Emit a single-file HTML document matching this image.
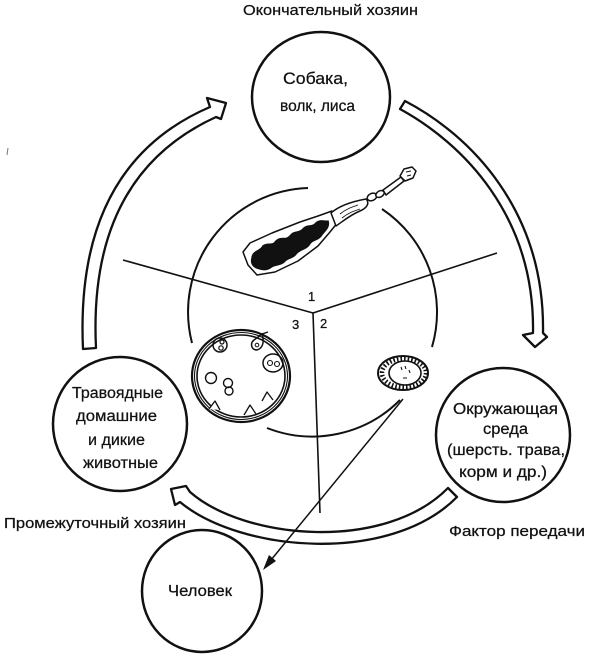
<!DOCTYPE html>
<html><head><meta charset="utf-8"><style>
html,body{margin:0;padding:0;background:#fff;}
svg{display:block;}
text{font-family:"Liberation Sans","DejaVu Sans",sans-serif;fill:#111;stroke:#111;stroke-width:0.25;}
</style></head><body>
<svg width="600" height="658" viewBox="0 0 600 658" xmlns="http://www.w3.org/2000/svg">
<rect width="600" height="658" fill="#fff"/>

<!-- Title -->
<text x="243" y="15" font-size="15" textLength="175" lengthAdjust="spacingAndGlyphs">Окончательный хозяин</text>

<!-- Top circle -->
<ellipse cx="321" cy="97" rx="69" ry="65" fill="none" stroke="#111" stroke-width="2.5"/>
<text x="283" y="84" font-size="17" textLength="65" lengthAdjust="spacingAndGlyphs">Собака,</text>
<text x="280" y="111" font-size="16" textLength="75" lengthAdjust="spacingAndGlyphs">волк, лиса</text>

<!-- Left arrow (up to top circle) -->
<g fill="none" stroke="#111" stroke-width="2.3" stroke-linejoin="round">
<path d="M83 349 C78 240 110 150 210 107 L207 98 L226 103 L221 119 L216 117 C122 160 91 245 96 348 Z"/>
</g>

<!-- Right arrow (down to environment) -->
<g fill="none" stroke="#111" stroke-width="2.3" stroke-linejoin="round">
<path d="M405 101 C470 135 545 210 543 333 L547 337 L535 347 L523 335 L533 333 C535 215 462 143 400 109 Z"/>
</g>

<!-- Bottom arrow (environment to herbivores) -->
<g fill="none" stroke="#111" stroke-width="2.3" stroke-linejoin="round">
<path d="M448 488 C385 552 245 540 190 492 L186 486 L171 489 L175 505 L180 502 C240 552 390 565 457 497 Z"/>
</g>

<!-- Left circle -->
<circle cx="120" cy="424" r="67" fill="none" stroke="#111" stroke-width="2.5"/>
<text x="72" y="398" font-size="15.5" textLength="91" lengthAdjust="spacingAndGlyphs">Травоядные</text>
<text x="76" y="421" font-size="15.5" textLength="81" lengthAdjust="spacingAndGlyphs">домашние</text>
<text x="88" y="445" font-size="15.5" textLength="57" lengthAdjust="spacingAndGlyphs">и дикие</text>
<text x="83" y="468" font-size="15.5" textLength="75" lengthAdjust="spacingAndGlyphs">животные</text>

<!-- Right circle -->
<circle cx="503" cy="435" r="67" fill="none" stroke="#111" stroke-width="2.5"/>
<text x="453" y="414" font-size="15.5" textLength="105" lengthAdjust="spacingAndGlyphs">Окружающая</text>
<text x="483" y="434" font-size="15.5" textLength="45" lengthAdjust="spacingAndGlyphs">среда</text>
<text x="447" y="455" font-size="15.5" textLength="118" lengthAdjust="spacingAndGlyphs">(шерсть. трава,</text>
<text x="459" y="477" font-size="15.5" textLength="88" lengthAdjust="spacingAndGlyphs">корм и др.)</text>

<!-- Bottom circle -->
<ellipse cx="202" cy="591" rx="60" ry="61" fill="none" stroke="#111" stroke-width="2.5"/>
<text x="168" y="596" font-size="15.5" textLength="64" lengthAdjust="spacingAndGlyphs">Человек</text>

<!-- side labels -->
<text x="4" y="528" font-size="15" textLength="182" lengthAdjust="spacingAndGlyphs">Промежуточный хозяин</text>
<text x="449" y="536" font-size="15" textLength="136" lengthAdjust="spacingAndGlyphs">Фактор передачи</text>

<!-- small mark -->
<line x1="8" y1="148" x2="7" y2="155" stroke="#777" stroke-width="1"/>

<!-- inner circle arcs -->
<g fill="none" stroke="#111" stroke-width="2">
<path d="M308 188 A124 124 0 0 0 192 343"/>
<path d="M382 209 A124 124 0 0 1 432 347"/>
<path d="M267 428 A124 124 0 0 0 400 400"/>
</g>

<!-- sector lines -->
<g stroke="#111" stroke-width="1.6" fill="none">
<line x1="123" y1="260" x2="313" y2="313"/>
<line x1="313" y1="313" x2="497" y2="253"/>
<line x1="313" y1="313" x2="320" y2="513"/>
</g>
<text x="308" y="301" font-size="13">1</text>
<text x="292" y="329" font-size="13">3</text>
<text x="320" y="328" font-size="13">2</text>

<!-- long arrow to human -->
<line x1="403" y1="399" x2="271" y2="560" stroke="#111" stroke-width="1.5"/>
<polygon points="263,570 276,561 269,555" fill="#111"/>

<!-- Worm -->
<g stroke="#111" stroke-width="1.5" stroke-linejoin="round">
<path d="M243 252 L250 243 L272 233 L300 222 L318 216 L332 211 L338 222 L330 232 L318 246 L298 261 L275 272 L257 275 L248 265 Z" fill="#fff"/>
<path d="M252 258 C253 250 260 252 263 246 C268 242 272 247 276 241 C281 236 286 241 290 236 C294 230 299 234 303 229 C307 224 312 228 316 223 C320 219 326 222 328 221 C330 228 324 231 321 236 C317 241 312 239 309 245 C305 250 300 249 296 254 C292 259 288 257 284 262 C279 266 274 264 270 268 C265 271 260 269 257 268 C252 266 251 262 252 258 Z" fill="#111"/>
<path d="M331 213 C340 205 355 201 366 199 C370 203 367 208 360 211 C350 215 342 222 336 226 Z" fill="#fff"/>
<path d="M340 214 C346 209 352 207 358 205 M342 218 C348 213 354 211 360 209" fill="none" stroke-width="0.9"/>
<ellipse cx="372" cy="197" rx="5" ry="3.5" transform="rotate(-25 372 197)" fill="#fff"/>
<ellipse cx="380" cy="194" rx="4.5" ry="3" transform="rotate(-30 380 194)" fill="#fff"/>
<path d="M383 190 L401 177 L404 181 L386 195 Z" fill="#fff"/>
<path d="M400 176 L404 169 L412 167 L416 171 L413 178 L405 181 Z" fill="#fff"/>
<path d="M406 172 L411 171 M407 176 L411 175" fill="none" stroke-width="1"/>
</g>

<!-- Cyst -->
<g fill="none" stroke="#111">
<ellipse cx="241" cy="376" rx="49" ry="46" stroke-width="2.2"/>
<ellipse cx="241" cy="376" rx="46.5" ry="43.5" stroke-width="1.1"/>
<ellipse cx="241" cy="376" rx="44" ry="41" stroke-width="1.6"/>
<circle cx="220" cy="345" r="7" stroke-width="1.5"/>
<circle cx="222" cy="342" r="2" stroke-width="1.2"/>
<circle cx="221" cy="348" r="2.2" stroke-width="1.2"/>
<path d="M257 350 C251 350 250 343 254 340 L262 334 C264 340 264 348 257 350 Z" stroke-width="1.5"/>
<circle cx="257" cy="345" r="1.8" stroke-width="1"/>
<path d="M262 334 L268 332" stroke-width="1.3"/>
<ellipse cx="273" cy="363" rx="10" ry="9" stroke-width="1.5"/>
<circle cx="270" cy="363" r="2.5" stroke-width="1.1"/>
<circle cx="277" cy="364" r="2.5" stroke-width="1.1"/>
<circle cx="211" cy="378" r="5.5" stroke-width="1.4"/>
<circle cx="228" cy="383" r="4.5" stroke-width="1.4"/>
<circle cx="229" cy="391" r="4" stroke-width="1.4"/>
</g>
<g fill="#fff" stroke="#111" stroke-width="1.3" stroke-linejoin="round">
<path d="M209 409 L215 401 L220 410"/>
<path d="M244 415 L250 405 L256 414"/>
<path d="M262 401 L267 392 L273 400"/>
</g>

<!-- Egg -->
<g fill="none" stroke="#111">
<ellipse cx="403" cy="373" rx="25" ry="17" stroke-width="2"/>
<ellipse cx="404" cy="373" rx="22" ry="14.3" stroke-width="4.5" stroke-dasharray="1.6 2"/>
<ellipse cx="405" cy="373" rx="16" ry="12" stroke-width="1.6"/>
<path d="M401 367 L402 370 M405 366 L406 369 M409 370 L410 373 M403 378 L407 378" stroke-width="1.1"/>
</g>
</svg>
</body></html>
